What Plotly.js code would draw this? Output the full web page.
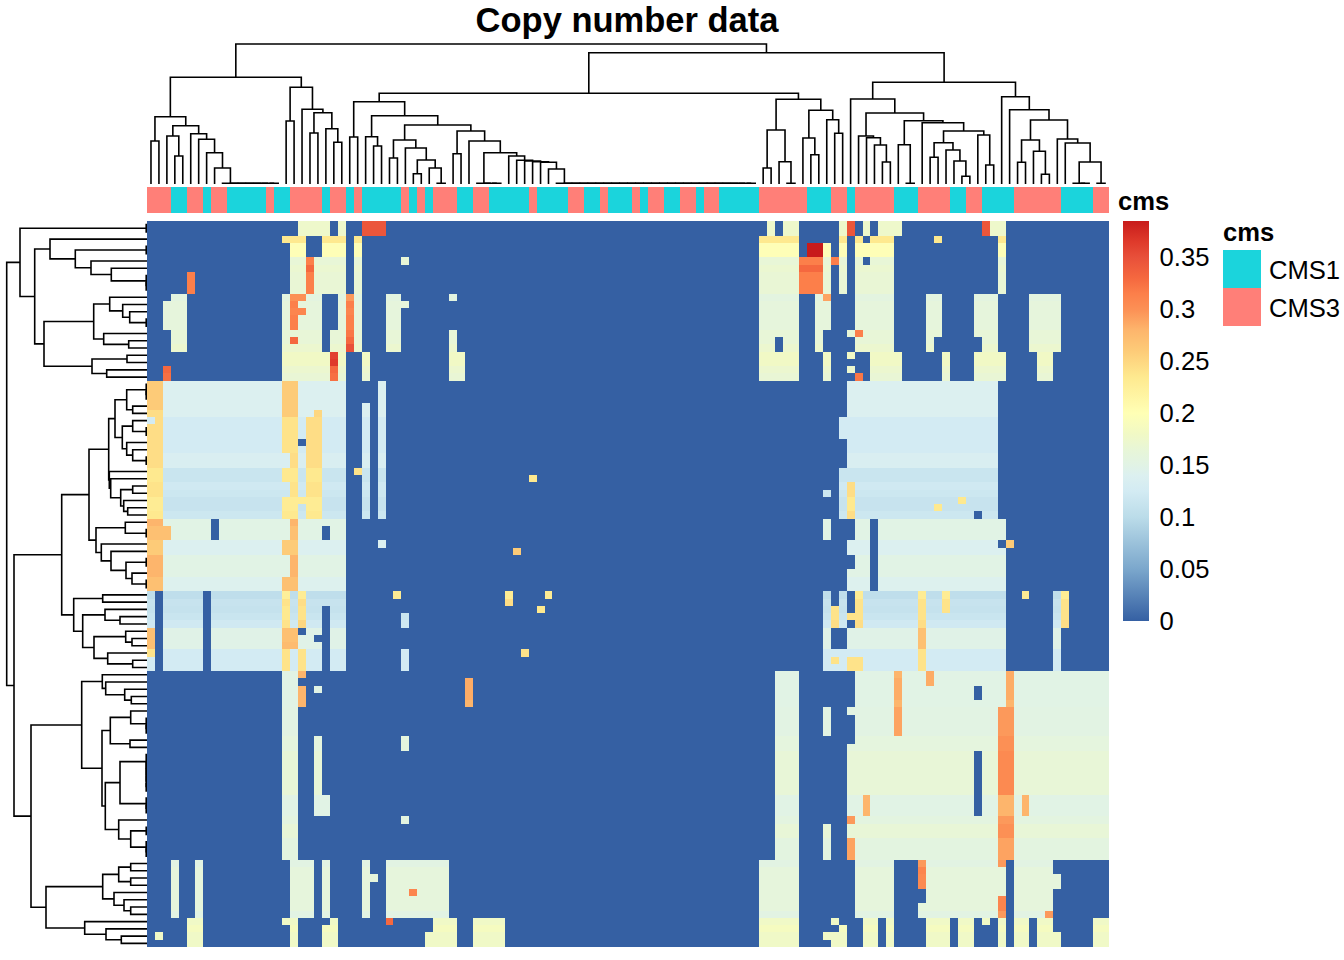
<!DOCTYPE html>
<html><head><meta charset="utf-8">
<script src="https://cdn.plot.ly/plotly-3.0.1.min.js"></script>
<style>html,body{margin:0;padding:0;background:#fff}#c{width:1344px;height:960px}</style>
</head><body><div id="c"></div>
<script>
const nCols = 121;
const chartTitle = 'Copy number data';
const cmsNames = ['CMS3', 'CMS1'];
const cmsColors = ['#FF7F78', '#1BD4DC'];
// run lengths of the annotation bar, alternating and starting with CMS3
const cmsRuns = [3,2,2,1,2,5,1,2,4,1,2,1,1,5,1,1,1,1,3,2,2,5,1,4,2,2,1,3,1,1,2,2,2,1,2,5,6,3,2,1,5,3,4,2,2,4,6,4,2];
const colorTicks = [0,0.05,0.1,0.15,0.2,0.25,0.3,0.35];
const colorMax = 0.385;
const colorStops = [[0,'#3560A3'],[0.05,'#7BA7CC'],[0.1,'#BBDCE9'],[0.125,'#D3EBF3'],[0.14,'#DCF0F0'],[0.15,'#E1F3E5'],[0.165,'#E8F6D7'],[0.18,'#F1F9C5'],[0.2,'#FFFFB5'],[0.235,'#FEE98F'],[0.26,'#FDCB78'],[0.28,'#FDB56C'],[0.3,'#FC9055'],[0.315,'#FC7F4A'],[0.33,'#F5683F'],[0.35,'#E8503A'],[0.365,'#DF3A2B'],[0.385,'#C81B1B']];

// level of the plateau cells in each row
const rowLevel = [
.175,.175,.235,.198,.198,.165,.17,.167,.167,.167,
.155,.16,.16,.16,.16,.165,.165,.172,.18,.18,
.172,.167,.14,.14,.14,.14,.14,.125,.125,.125,
.125,.125,.135,.135,.115,.115,.122,.118,.112,.112,
.118,.15,.15,.15,.14,.14,.15,.15,.15,.142,
.142,.104,.112,.11,.115,.122,.148,.148,.148,.125,
.125,.125,.15,.15,.15,.15,.15,.152,.152,.152,
.152,.158,.158,.165,.165,.165,.165,.165,.165,.15,
.15,.15,.155,.165,.165,.155,.155,.155,.152,.16,
.16,.16,.16,.16,.16,.152,.178,.186,.178,.178];

// cells of each row: "a-b" (half open) or "a" take the row level, "=v" sets a value; all others are 0
const rowCells = [
"19-23 24 27-30=.345 78 80-82 87 88=.345 90 92-95 105=.345 106-108",
"19-23 24 27-30=.345 78 80-82 87 88=.345 90 92-95 105=.345 106-108",
"17-20 22-25 26 77-82 87 89 91-94 99 107",
"18-20 22-25 26 77-82 83-85=.385 85 87 89-94 107",
"18-20 22-25 26 77-82 83-85=.385 85 87 89-94 107",
"18-25 20=.315 26 32 77-82 82-85=.315 85 86=.315 87 89 91-94 107",
"18-25 20=.33 26 77-82 82-85=.33 85 87 89-94 107",
"5=.315 18-25 20=.315 26 77-82 82-85=.315 85 87 89-94 107",
"5=.315 18-25 20=.315 26 77-82 82-85=.315 85 87 89-94 107",
"5=.315 18-25 20=.315 26 77-82 82-85=.315 85 87 89-94 107",
"3-5 17 18-20=.3 20-22 24 25=.295 26 30-32 38 77-82 84 85=.29 89-94 98-100 104-107 111-115",
"2-5 17 18=.315 19-22 24 25=.315 26 30-33 77-82 84-86 89-94 98-100 104-107 111-115",
"2-5 17 18-20=.31 20-22 24 25=.31 26 30-32 77-82 84-86 89-94 98-100 104-107 111-115",
"2-5 17 18=.315 19-22 24 25=.315 26 30-32 77-82 84-86 89-94 98-100 104-107 111-115",
"2-5 17 18=.315 19-22 24 25=.315 26 30-32 77-82 84-86 89-94 98-100 104-107 111-115",
"3-5 17-22 23-25 25=.32 26 30-32 38 77-82 84 88 89=.315 90-94 98-100 104-107 111-115",
"3-5 17 18=.33 19-22 23-25 25=.33 26 30-32 38 77-79 80-82 84 89-94 98 105-107 111-115",
"3-5 17-22 23-25 25=.35 26 30-32 38 77-79 80-82 84 89-94 98 105-107 111-115",
"17-23 23=.36 24 27 38-40 77-82 85 88 91-95 100 104-108 112-114",
"17-23 23=.365 24 27 38-40 77-82 85 91-95 100 104-108 112-114",
"2=.33 17-23 23=.33 24 27 38-40 77-82 85 88 91-95 100 104-108 112-114",
"2=.325 17-23 23=.325 24 27 38-40 77-82 85 89=.32 91-95 100 104-108 112-114",
"0-2=.26 2-17 17-19=.26 19-25 29 88-107",
"0-2=.26 2-17 17-19=.26 19-25 29 88-107",
"0-2=.26 2-17 17-19=.26 19-25 29 88-107",
"0-2=.26 2-17 17-19=.26 19-25 27 29 88-107",
"0-2=.245 2-17 17-19=.26 19-25 21=.25 27 29 88-107",
"0 1=.245 2-17 17-19=.24 19 20-22=.245 22-25 27 29 87-107",
"0-2=.245 2-17 17-19=.24 19 20-22=.245 22-25 27 29 87-107",
"0-2=.245 2-17 17-19=.24 19 20-22=.245 22-25 27 29 87-107",
"0-2=.245 2-17 17-19=.24 20-22=.245 22-25 27 29 88-107",
"0-2=.245 2-17 17-19=.24 19 20-22=.245 22-25 27 29 88-107",
"0-2=.245 2-18 18=.245 19 20-22=.245 22-25 27 29 88-107",
"0-2=.245 2-18 18=.245 19 20-22=.245 22-25 27 29 88-107",
"0-2=.235 2-17 17-19=.235 19 20-22=.235 22-25 26=.24 27 29 87-107",
"0-2=.235 2-17 17-19=.235 19 20-22=.235 22-25 27 29 48=.235 87-107",
"0-2=.24 2-18 18=.24 19 20-22=.24 22-25 27 29 87 88=.245 89-107",
"0-2=.24 2-18 18=.24 19 20-22=.24 22-25 27 29 85 87 88=.245 89-107",
"0-2=.23 2-17 17-22=.23 22-25 27 29 87 88=.235 89-107 102=.235",
"0-2=.23 2-17 17-19=.23 19 20-22=.23 22-25 27 29 87 88=.235 89-107 99=.235",
"0-2=.235 2-17 17-19=.235 19 20-22=.235 22-25 27 29 87 88=.245 89-104 105-107",
"0-2=.28 2-8 9-18 18=.28 19-25 85 89-91 92-108",
"0-3=.27 3-8 9-18 18=.27 19-22 23-25 85 89-91 92-108",
"0-3=.27 3-8 9-18 18=.27 19-22 23-25 85 89-91 92-108",
"0-2=.26 2-17 17-19=.26 19-25 29 88-91 92-107 108=.26",
"0-2=.26 2-17 17-19=.26 19-25 46=.26 88-91 92-108",
"0-2=.28 2-18 18=.28 19-25 89-91 92-108",
"0-2=.28 2-18 18=.28 19-25 89-91 92-108",
"0-2=.28 2-18 18=.28 19-25 88-91 92-108",
"0-2=.27 2-17 17-19=.27 19-25 88-91 92-108",
"0-2=.27 2-17 17-19=.27 19-25 88-91 92-108",
"0 2-7 8-17 17=.225 18 19=.23 20-25 31=.23 45=.23 50=.23 85 87 89=.23 90-97 97=.23 98-100 100=.23 101-108 110=.23 114 115=.23",
"0 2-7 8-17 17=.24 18 19=.245 20-25 45=.245 85 87 89=.24 90-97 97=.24 98-100 100=.24 101-108 114 115=.24",
"0 2-7 8-17 17=.235 18 19=.24 20-22 23-25 49=.235 85 86=.24 87 89=.24 90-97 97=.24 98-100 100=.24 101-108 114 115=.24",
"0 2-7 8-17 17=.235 18 19=.24 20-22 23-25 32 85 86=.24 87 88-90=.24 90-97 97=.24 98-108 114 115=.24",
"0 2-7 8-17 17=.24 18 19=.25 20-22 23-25 32 85 86=.245 87 89=.245 90-97 97=.245 98-108 114 115=.245",
"0=.27 2-7 8-17 17-19=.27 20-22 23-25 85 88-97 97=.27 98-108 114",
"0=.27 2-7 8-17 17-19=.27 19-21 23-25 85 88-97 97=.27 98-108 114",
"0=.27 2-7 8-17 17-19=.275 19-22 23-25 85 88-97 97=.27 98-108 114",
"0=.24 2-7 8-17 17=.24 18 19=.24 20-22 23-25 32 47=.24 85-97 97=.24 98-108 114",
"0 2-7 8-17 17=.24 18 19=.24 20-22 23-25 32 85 86=.24 87 88-90=.24 90-97 97=.24 98-108 114",
"0 2-7 8-17 17=.24 18 19=.24 20-22 23-25 32 85-88 88-90=.24 90-97 97=.24 98-108 114",
"17-19 19=.28 79-82 89-94 94=.28 95-98 98=.285 99-108 108=.285 109-121",
"17-19 40=.285 79-82 89-94 94=.285 95-98 98=.285 99-108 108=.285 109-121",
"17-19 19=.28 21 40=.285 79-82 89-94 94=.285 95-104 105-108 108=.285 109-121",
"17-19 19=.28 40=.285 79-82 89-94 94=.285 95-104 105-108 108=.285 109-121",
"17-19 19=.28 40=.28 79-82 89-94 94=.28 95-108 108=.28 109-121",
"17-19 79-82 85 88-94 94=.29 95-107 107-109=.295 109-121",
"17-19 79-82 85 89-94 94=.29 95-107 107-109=.295 109-121",
"17-19 79-82 85 89-94 94=.29 95-107 107-109=.295 109-121",
"17-19 79-82 85 89-94 94=.29 95-107 107-109=.295 109-121",
"17-19 21 32 79-82 89-107 107-109=.3 109-121",
"17-19 21 32 79-82 88-107 107-109=.3 109-121",
"17-19 21 79-82 88-104 105-107 107-109=.305 109-121",
"17-19 21 79-82 88-104 105-107 107-109=.305 109-121",
"17-19 21 79-82 88-104 105-107 107-109=.305 109-121",
"17-19 21 79-82 88-104 105-107 107-109=.305 109-121",
"17-19 21 79-82 88-104 105-107 107-109=.305 109-121",
"17-19 21 79-82 88-104 105-107 107-109=.305 109-121",
"17-19 21-23 79-82 88-90 90=.28 91-104 105-107 107-109=.28 109 110=.28 111-121",
"17-19 21-23 79-82 88-90 90=.28 91-104 105-107 107-109=.28 109 110=.28 111-121",
"17-19 21-23 79-82 88-90 90=.28 91-104 105-107 107-109=.28 109 110=.28 111-121",
"17-19 32 79-82 88=.295 89-107 107-109=.295 109-121",
"17-19 79-82 85 88-107 107-109=.3 109-121",
"17-19 79-82 85 88-107 107-109=.3 109-121",
"17-19 79-82 85 88=.29 89-107 107-109=.29 109-121",
"17-19 79-82 85 88=.29 89-107 107-109=.29 109-121",
"17-19 79-82 85 88=.29 89-107 107-109=.29 109-121",
"3 6 18-21 22 27 30-38 77-82 89-94 97=.295 98-107 107=.295 109-114",
"3 6 18-21 22 27 30-38 77-82 89-94 97=.31 98-108 109-114",
"3 6 18-21 22 27-29 30-38 77-82 89-94 97=.305 98-108 109-115",
"3 6 18-21 22 27 30-38 77-82 89-94 97=.305 98-108 109-115",
"3 6 18-21 22 27 30-38 33=.31 77-82 89-94 98-108 109-114",
"3 6 18-21 22 27 30-38 77-82 89-94 98-107 107=.31 109-114",
"3 6 18-21 22 27 30-38 77-82 89-94 97-107 107=.31 109-114",
"3 6 18-21 22 27 30-38 77-82 89-94 97-107 107=.295 109-113 113=.295",
"5-7 17-19 23 30=.33 36-39 41-45 77-82 86 90-92 93 98-101 102-104 105 107 109-111 112-114 119-121",
"5-7 18 22-24 36-39 41-45 77-82 87 90-92 93 98-101 102-104 107 109-111 112-114 119-121",
"1 5-7 18 22-24 35-39 41-45 77-82 85-88 90-92 93 98-101 102-104 107 109-111 112-115 119-121",
"5-7 18 22-24 35-39 41-45 77-82 86-88 90-92 93 98-101 102-104 107 109-111 112-115 119-121"
];

// dendrograms: [merge height, left, right]; a number n is a block of n leaves tied at tieHeight
const tieHeight = 0.8;
const colTree = [140,
 [106.7,
  [67.3,[43,1,1],[58.3,[48,1,[28,1,1]],[50.3,1,[44.7,1,[31.3,1,[16,1,8]]]]]],
  [96.7,[63,1,1],[74.7,1,[71.3,[51,1,1],[55.3,1,[41.7,1,1]]]]]
 ],
 [131.3,
  [90.7,
   [82.3,[47,1,1],[68.3,[47.3,1,[38,1,1]],[59,
     [44,[26,1,1],[36,1,[24,[10.3,1,1],[16,1,2]]]],
     [53,[30.3,1,1],[43,1,[31.3,4,[28,1,[23.7,1,[23,1,[22.3,1,[21.7,1,[15,1,26]]]]]]]]]
   ]]],
   [84.7,[54,[16,1,1],[22.3,1,2]],[73.7,[46,1,[29.3,1,1]],[64.3,1,[50.7,1,1]]]]
  ],
  [101.7,
   [85,1,[71,
     [48,1,[46.3,1,[39,1,[22,1,1]]]],
     [63.3,[39.3,1,2],[61.3,1,[53,[41.3,[26.7,1,1],[34,1,[23,1,[7.7,1,1]]]],[49,1,[19,1,1]]]]]
   ]],
   [87.3,1,[74.3,1,[64,
     [44,[21.7,1,1],[32.7,1,[9.7,1,1]]],
     [45,1,[41,1,[22,3,2]]]
   ]]]
  ]
 ]
];
const rowTree = [140.3,
 [127,2,[112.3,
   [97,1,[71.7,2,[56,1,[35.7,1,3]]]],
   [103,
    [53.3,[37.3,1,[24.3,1,[17.3,1,2]]],[43.3,1,[18.3,1,1]]],
    [55,[20,1,1],[40.3,1,1]]
   ]
 ]],
 [133,
  [85.3,
   [58,
    [38.3,
     [32,[20.3,3,[14.3,1,1]],[24.7,[14.3,1,2],[20.3,1,[14.3,1,2]]]],
     [37.7,1,[36.3,1,[26.3,[14.3,1,1],[23.3,1,[19.3,1,1]]]]]
    ],
    [51,[21.7,1,2],[45.7,1,[36,1,[21,2,[15,1,2]]]]]
   ],
   [73.3,[44.3,1,1],[64.3,[42,1,[27,1,1]],[53,[21.3,1,[15,1,1]],[39.3,1,[14.3,1,1]]]]]
  ],
  [116,
   [65.3,
    [44.7,1,[41.3,1,[22.3,1,[15.7,1,1]]]],
    [45,[36.7,[16.3,1,3],[17,1,1]],[41.7,[27,6,3],[28.3,1,[16.3,2,3]]]]
   ],
   [101,
    [44.3,[28.3,[16.3,1,1],[16.3,1,1]],[33,1,[23,1,[16.3,1,1]]]],
    [62.3,1,[41,1,[25.7,1,1]]]
   ]
  ]
 ]
];

// ---------- build ----------
const zMatrix = rowLevel.map((lv, r) => {
  const row = new Array(nCols).fill(0);
  rowCells[r].split(' ').forEach(tok => {
    const [span, val] = tok.split('=');
    const [a, b] = span.split('-').map(Number);
    const end = b === undefined ? a + 1 : b;
    for (let c = a; c < end; c++) row[c] = val === undefined ? lv : Number(val);
  });
  return row;
});
const cmsRow = [];
cmsRuns.forEach((n, i) => { for (let k = 0; k < n; k++) cmsRow.push(i % 2); });

function dendro(tree) {
  const pos = [], hgt = [];
  let next = 0;
  const expand = n => n === 1 ? 1 : [tieHeight, 1, expand(n - 1)];
  function walk(node) {
    if (node === 1) return { p: next++, h: 0 };
    if (typeof node === 'number') node = expand(node);
    const A = walk(node[1]), B = walk(node[2]), h = node[0];
    pos.push(A.p, A.p, B.p, B.p, null);
    hgt.push(A.h, h, h, B.h, null);
    return { p: (A.p + B.p) / 2, h };
  }
  walk(tree);
  return { pos, hgt };
}
const colDend = dendro(colTree), rowDend = dendro(rowTree);

const W = 1344, H = 960, fontFam = '"Liberation Sans", Arial, sans-serif';
const fx = (a, b) => [a / W, b / W];
const fy = (a, b) => [1 - b / H, 1 - a / H];
const heatScale = colorStops.map(s => [s[0] / colorMax, s[1]]);
const hidden = { visible: false, fixedrange: true };
const dendLine = { color: '#000', width: 1.6 };

const traces = [
  { type: 'heatmap', z: zMatrix, xaxis: 'x', yaxis: 'y', zmin: 0, zmax: colorMax, colorscale: heatScale, hoverinfo: 'skip',
    colorbar: { thickness: 26, thicknessmode: 'pixels', len: 400, lenmode: 'pixels', x: 1123 / W, xanchor: 'left',
      y: 1 - 221 / H, yanchor: 'top', xpad: 0, ypad: 0, outlinewidth: 0, borderwidth: 0, tickmode: 'array',
      tickvals: colorTicks, ticktext: colorTicks.map(String), ticks: 'outside', ticklen: 6, tickcolor: 'rgba(0,0,0,0)',
      tickfont: { family: fontFam, size: 25.6, color: '#000' } } },
  { type: 'heatmap', z: [cmsRow], xaxis: 'x2', yaxis: 'y2', zmin: 0, zmax: 1, showscale: false, hoverinfo: 'skip',
    colorscale: [[0, cmsColors[0]], [0.5, cmsColors[0]], [0.5, cmsColors[1]], [1, cmsColors[1]]] },
  { type: 'scatter', mode: 'lines', x: colDend.pos, y: colDend.hgt, xaxis: 'x3', yaxis: 'y3', line: dendLine, hoverinfo: 'skip', showlegend: false },
  { type: 'scatter', mode: 'lines', x: rowDend.hgt, y: rowDend.pos, xaxis: 'x4', yaxis: 'y4', line: dendLine, hoverinfo: 'skip', showlegend: false },
  { type: 'heatmap', z: [[1], [0]], xaxis: 'x5', yaxis: 'y5', zmin: 0, zmax: 1, showscale: false, hoverinfo: 'skip',
    colorscale: [[0, cmsColors[0]], [0.5, cmsColors[0]], [0.5, cmsColors[1]], [1, cmsColors[1]]] }
];
const colRange = [-0.5, nCols - 0.5], rowRange = [rowLevel.length - 0.5, -0.5];
const label = (x, y, t, bold) => ({ xref: 'paper', yref: 'paper', x: x / W, y: 1 - y / H, xanchor: 'left', yanchor: 'middle',
  showarrow: false, xshift: 0, borderpad: 0, text: bold ? '<b>' + t + '</b>' : t, font: { family: fontFam, size: 25.6, color: '#000' } });

const layout = {
  width: W, height: H, margin: { l: 0, r: 0, t: 0, b: 0 }, paper_bgcolor: '#fff', plot_bgcolor: '#fff', showlegend: false,
  title: { text: '<b>' + chartTitle + '</b>', font: { family: fontFam, size: 34.5, color: '#000' }, x: 627 / W, xanchor: 'center', xref: 'paper', y: 1 - 20 / H, yanchor: 'middle', yref: 'paper' },
  xaxis: { ...hidden, domain: fx(147, 1109), range: colRange, anchor: 'y' },
  yaxis: { ...hidden, domain: fy(221, 947), range: rowRange, anchor: 'x' },
  xaxis2: { ...hidden, domain: fx(147, 1109), range: colRange, anchor: 'y2' },
  yaxis2: { ...hidden, domain: fy(187, 213), range: [-0.5, 0.5], anchor: 'x2' },
  xaxis3: { ...hidden, domain: fx(147, 1109), range: colRange, anchor: 'y3' },
  yaxis3: { ...hidden, domain: fy(34, 184), range: [0, 150], anchor: 'x3' },
  xaxis4: { ...hidden, domain: fx(0, 147), range: [147, 0], anchor: 'y4' },
  yaxis4: { ...hidden, domain: fy(221, 947), range: rowRange, anchor: 'x4' },
  xaxis5: { ...hidden, domain: fx(1223, 1261), range: [-0.5, 0.5], anchor: 'y5' },
  yaxis5: { ...hidden, domain: fy(250, 326), range: [1.5, -0.5], anchor: 'x5' },
  annotations: [
    label(1117, 201, 'cms', true),
    label(1222, 232, 'cms', true),
    label(1268, 270, cmsNames[1]),
    label(1268, 308, cmsNames[0])
  ]
};
Plotly.newPlot('c', traces, layout, { displayModeBar: false, staticPlot: true });
</script></body></html>
